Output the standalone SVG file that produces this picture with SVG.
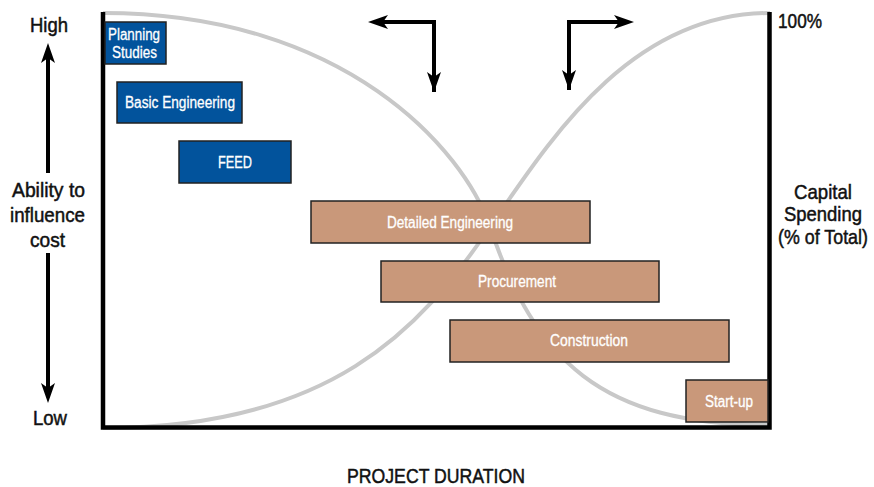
<svg xmlns="http://www.w3.org/2000/svg" width="874" height="487" viewBox="0 0 874 487">
  <style>
    .lbl { font-family: "Liberation Sans Narrow", "Liberation Sans", Arial, sans-serif; fill: #111; stroke: #111; stroke-width: 0.5; font-size: 21px; }
    .box-blue { fill: #02539c; stroke: #222; stroke-width: 1.5; }
    .box-tan { fill: #c9987a; stroke: #222; stroke-width: 1.5; }
    .btxt { font-family: "Liberation Sans Narrow", "Liberation Sans", Arial, sans-serif; fill: #fff; stroke: #fff; stroke-width: 0.3; font-size: 16px; text-anchor: middle; }
    .curve { fill: none; stroke: #c8c8c8; stroke-width: 4; }
    .axis { fill: none; stroke: #000; stroke-width: 4.5; }
    .arr { fill: none; stroke: #000; stroke-width: 4; marker-end: url(#ah); }
  </style>
  <defs>
    <marker id="ah" viewBox="0 0 20 14" refX="10" refY="7" markerWidth="20" markerHeight="14" markerUnits="userSpaceOnUse" orient="auto">
      <path d="M0,0 L20,7 L0,14 L5,7 Z" fill="#000"/>
    </marker>
  </defs>

  <rect width="874" height="487" fill="#fff"/>

  <g id="curves">
    <path class="curve" d="M103,13 C345,13 464,150 490,227 C535,360 600,425 770,425"/>
    <path class="curve" d="M103,428 C330,428 420,330 490,227 C550,140 630,13 770,13"/>
  </g>

  <g id="axes">
    <path class="axis" d="M103,12 L103,427.5 L769.5,427.5 L769.5,12"/>
  </g>

  <g id="connectors">
    <path class="arr" d="M434,92 L434,22 L378,22"/>
    <path class="arr" d="M434,22 L434,82"/>
    <path class="arr" d="M569,90 L569,22 L624,22"/>
    <path class="arr" d="M569,22 L569,80"/>
    <path class="arr" d="M48,173 L48,53"/>
    <path class="arr" d="M48,253 L48,393"/>
  </g>

  <g id="planning">
    <rect class="box-blue" x="105" y="22" width="61" height="42"/>
    <text class="btxt" x="134" y="40" textLength="52" lengthAdjust="spacingAndGlyphs">Planning</text>
    <text class="btxt" x="134.5" y="58" textLength="45" lengthAdjust="spacingAndGlyphs">Studies</text>
  </g>
  <g id="basic">
    <rect class="box-blue" x="117" y="82" width="125" height="41"/>
    <text class="btxt" x="180" y="108" textLength="110" lengthAdjust="spacingAndGlyphs">Basic Engineering</text>
  </g>
  <g id="feed">
    <rect class="box-blue" x="179" y="141" width="112" height="42"/>
    <text class="btxt" x="235" y="168" textLength="34" lengthAdjust="spacingAndGlyphs">FEED</text>
  </g>
  <g id="detailed">
    <rect class="box-tan" x="311" y="201" width="279" height="42"/>
    <text class="btxt" x="450" y="228" textLength="126" lengthAdjust="spacingAndGlyphs">Detailed Engineering</text>
  </g>
  <g id="procurement">
    <rect class="box-tan" x="381" y="261" width="278" height="41"/>
    <text class="btxt" x="517" y="287" textLength="78" lengthAdjust="spacingAndGlyphs">Procurement</text>
  </g>
  <g id="construction">
    <rect class="box-tan" x="450" y="320" width="279" height="42"/>
    <text class="btxt" x="589" y="346" textLength="78" lengthAdjust="spacingAndGlyphs">Construction</text>
  </g>
  <g id="startup">
    <rect class="box-tan" x="686" y="380" width="82" height="42"/>
    <text class="btxt" x="729" y="407" textLength="48" lengthAdjust="spacingAndGlyphs">Start-up</text>
  </g>

  <g id="labels">
    <text class="lbl" x="49" y="32" text-anchor="middle" textLength="38" lengthAdjust="spacingAndGlyphs">High</text>
    <text class="lbl" x="48.5" y="197" text-anchor="middle" textLength="73" lengthAdjust="spacingAndGlyphs">Ability to</text>
    <text class="lbl" x="47.5" y="222" text-anchor="middle" textLength="75" lengthAdjust="spacingAndGlyphs">influence</text>
    <text class="lbl" x="47.5" y="247" text-anchor="middle" textLength="35" lengthAdjust="spacingAndGlyphs">cost</text>
    <text class="lbl" x="50" y="425" text-anchor="middle" textLength="34" lengthAdjust="spacingAndGlyphs">Low</text>
    <text class="lbl" x="778" y="28" textLength="44" lengthAdjust="spacingAndGlyphs">100%</text>
    <text class="lbl" x="823" y="199" text-anchor="middle" textLength="58" lengthAdjust="spacingAndGlyphs">Capital</text>
    <text class="lbl" x="823" y="221" text-anchor="middle" textLength="78" lengthAdjust="spacingAndGlyphs">Spending</text>
    <text class="lbl" x="0" y="0" text-anchor="middle" transform="translate(823,244) scale(0.85,1)">(% of Total)</text>
    <text class="lbl" x="436" y="483" text-anchor="middle" textLength="178" lengthAdjust="spacingAndGlyphs">PROJECT DURATION</text>
  </g>
</svg>
